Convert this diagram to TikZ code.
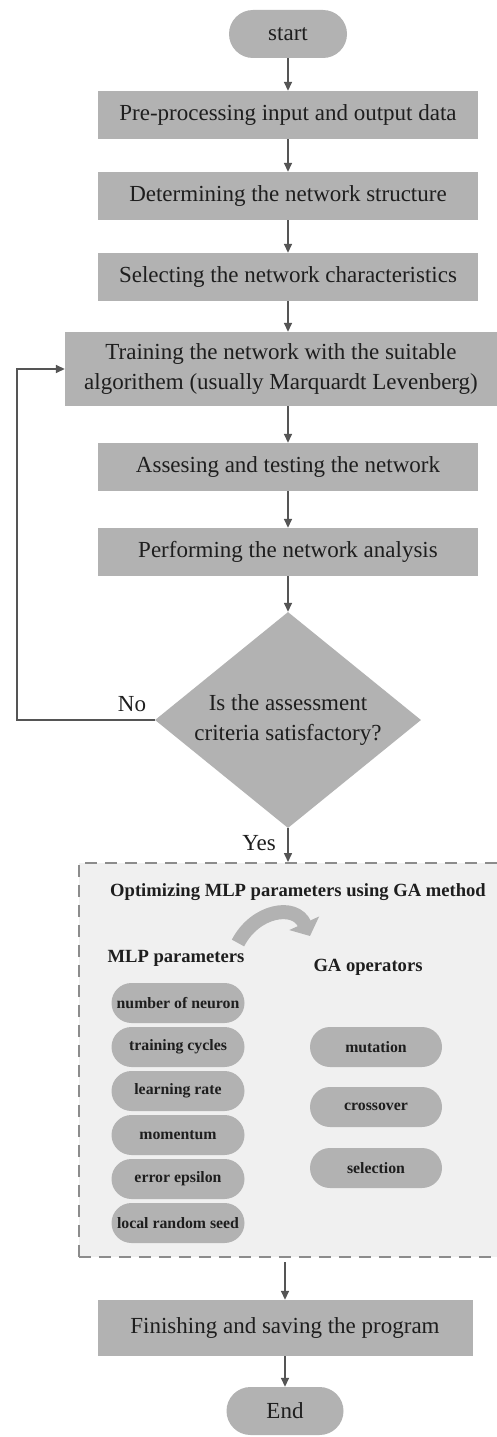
\documentclass[tikz,border=0pt]{standalone}
\usepackage{fontspec}
\setmainfont{Liberation Serif}
\usetikzlibrary{arrows.meta,shapes.geometric}
\definecolor{boxgray}{RGB}{178,178,178}
\definecolor{txt}{RGB}{30,30,30}
\definecolor{arr}{RGB}{85,85,85}
\definecolor{panel}{RGB}{240,240,240}
\definecolor{dashc}{RGB}{140,140,140}
\tikzset{
  stepbox/.style={rectangle, fill=boxgray, text=txt, minimum width=380pt, minimum height=48pt, inner sep=0pt, font=\fontsize{23}{27}\selectfont, align=center},
  term/.style={rectangle, rounded corners=24pt, fill=boxgray, text=txt, minimum width=118pt, minimum height=48pt, inner sep=0pt, font=\fontsize{23}{27}\selectfont},
  pill/.style={rectangle, rounded corners=20pt, fill=boxgray, text=txt, minimum width=133pt, minimum height=40pt, inner sep=0pt, font=\fontsize{15.8}{18}\selectfont\bfseries},
  flow/.style={draw=arr, line width=1.5pt, -{Triangle[length=9pt,width=8pt]}},
  lbl/.style={text=txt, font=\fontsize{23}{27}\selectfont, inner sep=0pt}
}
\begin{document}
\begin{tikzpicture}[x=1pt,y=-1pt]
\useasboundingbox (0,0) rectangle (497,1437);
\clip (0,0) rectangle (497,1437);
\fill[white] (0,0) rectangle (497,1437);

\node[term] (start) at (288,34) {start};
\node[stepbox] (pre) at (288,115) {Pre-processing input and output data};
\node[stepbox] (det) at (288,196) {Determining the network structure};
\node[stepbox] (sel) at (288,277) {Selecting the network characteristics};
\node[stepbox, minimum width=432pt, minimum height=74pt, font=\fontsize{23}{30}\selectfont] (train) at (281,369) {Training the network with the suitable\\algorithem (usually Marquardt Levenberg)};
\node[stepbox] (ass) at (288,467) {Assesing and testing the network};
\node[stepbox] (perf) at (288,552) {Performing the network analysis};
\node[diamond, aspect=1.23, fill=boxgray, text=txt, minimum width=266pt, minimum height=216pt, inner sep=0pt, align=center, font=\fontsize{23}{30}\selectfont] (dia) at (288,720) {Is the assessment\\criteria satisfactory?};

% panel
\node[draw=dashc, fill=panel, line width=1.5pt, dash pattern=on 12pt off 8pt, minimum width=432pt, minimum height=394pt, inner sep=0pt, anchor=north west] (panel) at (78,862) {};
\node[text=txt, font=\fontsize{18.6}{22}\selectfont\bfseries, inner sep=0pt] (title) at (298,892) {Optimizing MLP parameters using GA method};
\node[text=txt, font=\fontsize{18.6}{22}\selectfont\bfseries, inner sep=0pt] (mlp) at (176,958) {MLP parameters};
\node[text=txt, font=\fontsize{18.6}{22}\selectfont\bfseries, inner sep=0pt] (gaop) at (368,967) {GA operators};
\coordinate (ca) at (238,943);
\coordinate (cb) at (310,936);
\draw[line width=14pt, draw=boxgray, -{Triangle[length=14pt,width=32pt]}] (ca) .. controls (255,910) and (295,903) .. (cb);

\node[pill] (p1) at (178,1003) {number of neuron};
\node[pill] (p2) at (178,1047) {training cycles};
\node[pill] (p3) at (178,1091) {learning rate};
\node[pill] (p4) at (178,1135) {momentum};
\node[pill] (p5) at (178,1179) {error epsilon};
\node[pill] (p6) at (178,1223) {local random seed};
\node[pill, minimum width=132pt] (g1) at (376,1047) {mutation};
\node[pill, minimum width=132pt] (g2) at (376,1107) {crossover};
\node[pill, minimum width=132pt] (g3) at (376,1168) {selection};

\node[stepbox, minimum width=375pt, minimum height=56pt] (fin) at (285,1328) {Finishing and saving the program};
\node[term, minimum width=117pt] (end) at (285,1411) {End};

% connectors
\draw[flow] (start) -- (pre);
\draw[flow] (pre) -- (det);
\draw[flow] (det) -- (sel);
\draw[flow] (sel.south) -- (sel.south |- train.north);
\draw[flow] (ass.north |- train.south) -- (ass.north);
\draw[flow] (ass) -- (perf);
\draw[flow] (perf) -- (dia);
\coordinate (fbx) at (17,0);
\draw[flow] (dia.west) -- (dia.west -| fbx) |- (train.west);
\node[lbl] (no) at (132,704) {No};
\coordinate (pt) at (288,862);
\draw[flow] (dia.south) -- (pt);
\node[lbl] (yes) at (259,843) {Yes};
\coordinate (pb) at (285,1262);
\draw[flow] (pb) -- (fin.north);
\draw[flow] (fin) -- (end);
\end{tikzpicture}
\end{document}
